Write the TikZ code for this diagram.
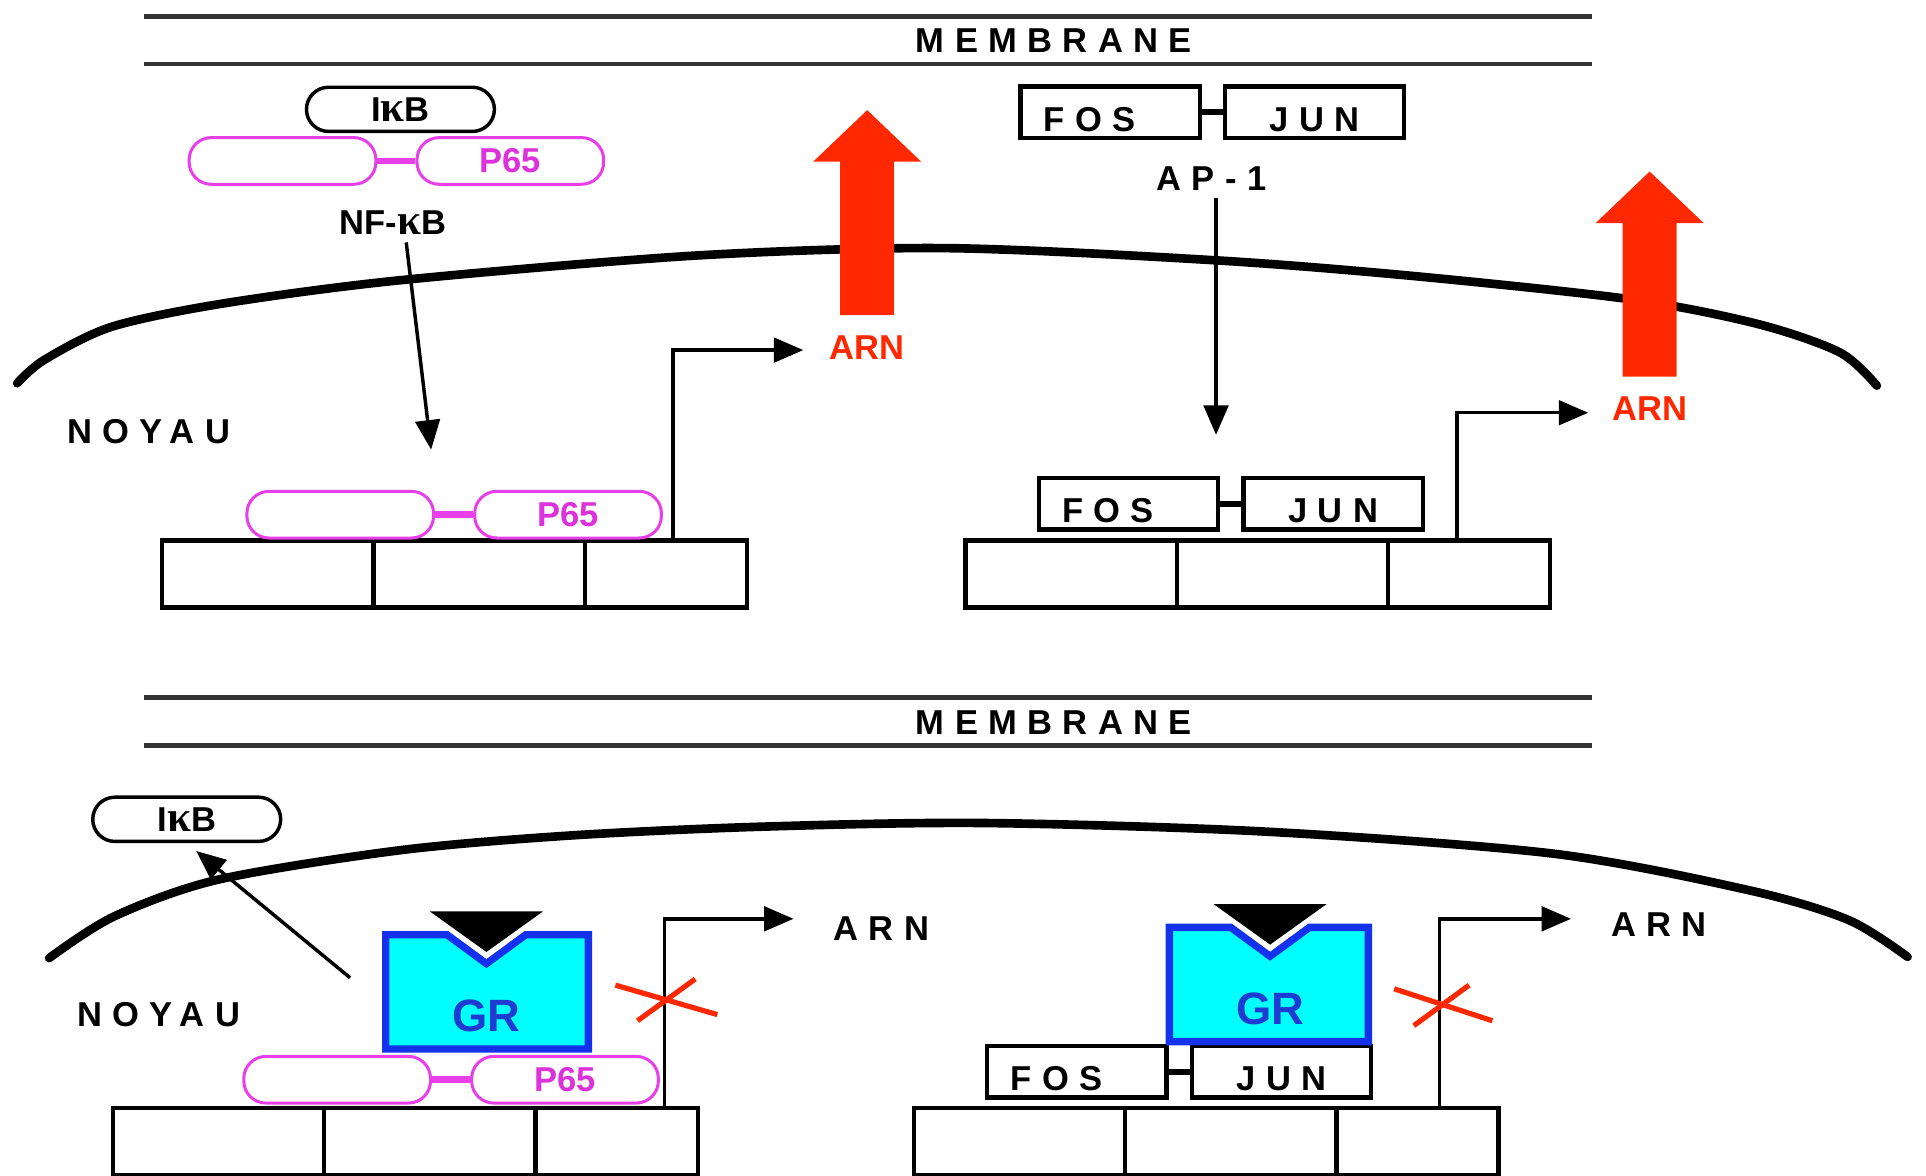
\documentclass[tikz,border=0pt]{standalone}
\usepackage{fontspec}
\setmainfont{Liberation Sans}
\newfontfamily\spacedfont{Liberation Sans}[LetterSpace=30]
\newfontfamily\kappafont{Liberation Serif}[Scale=1.25]
\newcommand{\kap}{{\kappafont κ}}
\usepackage{tikz}
\usetikzlibrary{arrows.meta, positioning}

\definecolor{pinkline}{RGB}{232,64,232}
\definecolor{pinktext}{RGB}{220,50,220}
\definecolor{arnred}{RGB}{255,40,0}
\definecolor{grcyan}{RGB}{0,255,255}
\definecolor{grblue}{RGB}{20,50,235}
\definecolor{grtext}{RGB}{30,60,210}

\begin{document}
\begin{tikzpicture}[x=1cm, y=-1cm,
    txt/.style={inner sep=0pt, font=\bfseries\fontsize{8}{9}\selectfont},
    spaced/.style={inner sep=0pt, anchor=west, font=\spacedfont\bfseries\fontsize{8}{9}\selectfont},
    redlabel/.style={txt, text=arnred},
    memline/.style={line width=1.1pt, black!80},
    envelope/.style={line width=2pt, line cap=round},
    pill/.style={txt, draw, line width=0.8pt, rounded corners=1.8mm, minimum width=1.53cm, minimum height=0.36cm},
    pinkpill/.style={pill, draw=pinkline, line width=0.7pt, text=pinktext, minimum width=1.52cm, minimum height=0.38cm},
    pinkjoint/.style={pinkline, line width=1.5pt},
    protbox/.style={draw, line width=1pt, inner sep=0pt, minimum width=1.46cm, minimum height=0.42cm,
      text height=3.1mm, text depth=0pt, font=\spacedfont\bfseries\fontsize{8}{9}\selectfont},
    fosbox/.style={protbox, text width=1.08cm, align=left, inner xsep=1.9mm},
    junbox/.style={protbox},
    joint/.style={line width=1.4pt},
    dna/.style={draw, line width=1pt, inner sep=0pt, outer sep=0pt, minimum height=0.545cm},
    dnaw/.style={dna, minimum width=1.72cm},
    dnan/.style={dna, minimum width=1.32cm},
    link/.style={line width=0.8pt, -{Triangle[length=2.4mm, width=2mm]}},
    redx/.style={arnred, line width=1.2pt},
    grbox/.style={draw=grblue, fill=grcyan, line width=1.7pt, line join=miter},
    grlabel/.style={inner sep=0pt, text=grtext, font=\bfseries\fontsize{10.5}{12}\selectfont}]

  % 1. cadre
  \useasboundingbox (0,0) rectangle (15.68,9.57);

  % 2. membranes
  \draw[memline] (1.17,0.135) -- (12.96,0.135);
  \draw[memline] (1.17,0.52) -- (12.96,0.52);
  \node[spaced] (memA) at (7.45,0.33) {MEMBRANE};
  \draw[memline] (1.17,5.68) -- (12.96,5.68);
  \draw[memline] (1.17,6.07) -- (12.96,6.07);
  \node[spaced] (memC) at (7.45,5.88) {MEMBRANE};

  % 3. enveloppes du noyau
  \draw[envelope] plot[smooth] coordinates {(0.14,3.12) (0.36,2.93) (0.91,2.66) (1.82,2.47)
    (3.27,2.28) (5.67,2.08) (7.70,2.02) (9.91,2.12) (11.54,2.25) (13.30,2.44)
    (14.32,2.64) (14.98,2.87) (15.28,3.14)};
  \draw[envelope] plot[smooth] coordinates {(0.40,7.80) (0.93,7.46) (1.78,7.16) (3.27,6.92)
    (4.67,6.80) (6.20,6.73) (8.00,6.70) (10.30,6.77) (12.65,6.95) (14.25,7.25)
    (15.05,7.49) (15.53,7.79)};
  \node[spaced] (noyA) at (0.54,3.51) {NOYAU};
  \node[spaced] (noyC) at (0.62,8.26) {NOYAU};

  % 4. NF-kB dans le cytoplasme
  \node[pill] (ikbA) at (3.26,0.89) {I\kap B};
  \node[pinkpill] (p65lA) at (2.30,1.31) {};
  \node[pinkpill, right=3.1mm of p65lA] (p65rA) {P65};
  \draw[pinkjoint] (p65lA) -- (p65rA);
  \node[txt] (nfkb) at (3.20,1.81) {NF-\kap B};
  \coordinate (nfkbEnd) at (3.51,3.66);
  \draw[link, shorten <=0.6mm] ([xshift=1mm]nfkb.south) -- (nfkbEnd);

  % 5. NF-kB sur l'ADN
  \node[dnaw, anchor=north west] (dnaA1) at (1.32,4.40) {};
  \node[dnaw, right=0pt of dnaA1] (dnaA2) {};
  \node[dnan, right=0pt of dnaA2] (dnaA3) {};
  \node[pinkpill] (p65lB) at (2.77,4.19) {};
  \node[pinkpill, right=3.1mm of p65lB] (p65rB) {P65};
  \draw[pinkjoint] (p65lB) -- (p65rB);
  \node[redlabel] (arnA) at (7.06,2.83) {ARN};
  \coordinate (txA) at (6.54,2.85);
  \draw[link] ([xshift=0.6mm]dnaA3.north) |- (txA);
  \fill[arnred] ([xshift=-2.2mm, yshift=1.6mm]arnA.north) -- ++(0,-1.25) -- ++(-0.22,0)
    -- ++(0.44,-0.42) -- ++(0.44,0.42) -- ++(-0.22,0) -- ++(0,1.25) -- cycle;

  % 6. AP-1 dans le cytoplasme
  \node[fosbox, anchor=west] (fosA) at (8.29,0.915) {FOS};
  \node[junbox, right=1.7mm of fosA] (junA) {JUN};
  \draw[joint] (fosA) -- (junA);
  \node[spaced] (ap1) at (9.41,1.45) {AP-1};
  \coordinate (ap1End) at (9.90,3.54);
  \draw[link, shorten <=0.6mm] (ap1.south -| ap1End) -- (ap1End);

  % 7. AP-1 sur l'ADN
  \node[dnaw, anchor=north west] (dnaB1) at (7.86,4.40) {};
  \node[dnaw, right=0pt of dnaB1] (dnaB2) {};
  \node[dnan, right=0pt of dnaB2] (dnaB3) {};
  \node[fosbox, anchor=west] (fosB) at (8.44,4.10) {FOS};
  \node[junbox, right=1.7mm of fosB] (junB) {JUN};
  \draw[joint] (fosB) -- (junB);
  \node[redlabel] (arnB) at (13.43,3.33) {ARN};
  \coordinate (txB) at (12.93,3.36);
  \draw[link] ([xshift=-1mm]dnaB3.north) |- (txB);
  \fill[arnred] ([xshift=-2.2mm, yshift=1.6mm]arnB.north) -- ++(0,-1.25) -- ++(-0.22,0)
    -- ++(0.44,-0.42) -- ++(0.44,0.42) -- ++(-0.22,0) -- ++(0,1.25) -- cycle;

  % 8. GR sur NF-kB
  \node[pill] (ikbC) at (1.52,6.67) {I\kap B};
  \node[dnaw, anchor=north west] (dnaC1) at (0.92,9.02) {};
  \node[dnaw, right=0pt of dnaC1] (dnaC2) {};
  \node[dnan, right=0pt of dnaC2] (dnaC3) {};
  \node[pinkpill] (p65lC) at (2.745,8.79) {};
  \node[pinkpill, right=3.1mm of p65lC] (p65rC) {P65};
  \draw[pinkjoint] (p65lC) -- (p65rC);
  \begin{scope}[shift={(3.11,7.58)}]
    \draw[grbox] (0.03,0.03) -- (0.53,0.03) -- (0.85,0.265) -- (1.17,0.03) -- (1.68,0.03)
      -- (1.68,0.96) -- (0.03,0.96) -- cycle;
    \fill (0.39,-0.16) -- (1.31,-0.16) -- (0.85,0.17) -- cycle;
    \node[grlabel] (grC) at (0.85,0.69) {GR};
  \end{scope}
  \coordinate (grCtail) at (2.85,7.96);
  \draw[link, shorten >=1mm] (grCtail) -- (ikbC.south);
  \coordinate (txC) at (6.46,7.48);
  \draw[link] ([xshift=3.9mm]dnaC3.north) |- (txC);
  \node[spaced] (arnC) at (6.78,7.56) {ARN};
  \draw[redx] (5.01,8.02) -- (5.84,8.26);
  \draw[redx] (5.19,8.31) -- (5.66,7.97);

  % 9. GR sur AP-1
  \node[dnaw, anchor=north west] (dnaD1) at (7.44,9.02) {};
  \node[dnaw, right=0pt of dnaD1] (dnaD2) {};
  \node[dnan, right=0pt of dnaD2] (dnaD3) {};
  \node[fosbox, anchor=west] (fosD) at (8.02,8.725) {FOS};
  \node[junbox, right=1.7mm of fosD] (junD) {JUN};
  \draw[joint] (fosD) -- (junD);
  \begin{scope}[shift={(9.49,7.52)}]
    \draw[grbox] (0.03,0.03) -- (0.53,0.03) -- (0.85,0.265) -- (1.17,0.03) -- (1.65,0.03)
      -- (1.65,0.96) -- (0.03,0.96) -- cycle;
    \fill (0.39,-0.16) -- (1.31,-0.16) -- (0.85,0.17) -- cycle;
    \node[grlabel] (grD) at (0.85,0.69) {GR};
  \end{scope}
  \coordinate (txD) at (12.79,7.48);
  \draw[link] ([xshift=1.8mm]dnaD3.north) |- (txD);
  \node[spaced] (arnD) at (13.11,7.53) {ARN};
  \draw[redx] (11.35,8.05) -- (12.15,8.31);
  \draw[redx] (11.51,8.35) -- (11.96,8.02);
\end{tikzpicture}
\end{document}
